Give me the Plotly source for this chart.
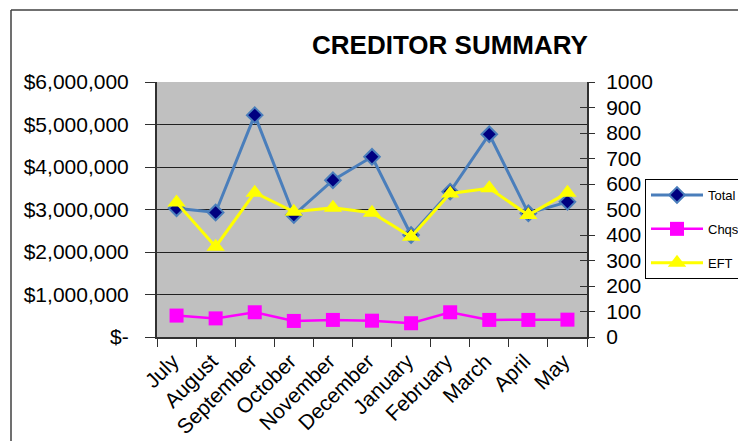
import plotly.graph_objects as go

months = ["July", "August", "September", "October", "November", "December",
          "January", "February", "March", "April", "May"]
total = [3030000, 2930000, 5220000, 2870000, 3690000, 4240000,
         2400000, 3420000, 4770000, 2910000, 3180000]
chqs = [84, 73, 97, 63, 67, 64, 54, 97, 67, 67, 68]
eft = [527, 354, 566, 491, 507, 487, 393, 563, 583, 478, 566]

left_tickvals = [0, 1000000, 2000000, 3000000, 4000000, 5000000, 6000000]
left_ticktext = ["$-", "$1,000,000", "$2,000,000", "$3,000,000", "$4,000,000",
                 "$5,000,000", "$6,000,000"]
right_tickvals = [0, 100, 200, 300, 400, 500, 600, 700, 800, 900, 1000]

FONT = "Liberation Sans, Arial, sans-serif"
OFF = 8  # page body margin
W, H = 746 - OFF, 441 - OFF
PL, PR, PT, PB = 157 - OFF, 587 - OFF, 82 - OFF, 337 - OFF  # plot area in figure px


def px_x(x):
    return (x - OFF - PL) / (PR - PL)


def px_y(y):
    return (PB - (y - OFF)) / (PB - PT)


fig = go.Figure()
fig.add_trace(go.Scatter(
    x=months, y=total, name="Total", mode="lines+markers", yaxis="y",
    line=dict(color="#4A7EBB", width=3),
    marker=dict(symbol="diamond", size=12, color="#000080",
                line=dict(color="#4A7EBB", width=2)),
    legendgroup="a"))
fig.add_trace(go.Scatter(
    x=months, y=chqs, name="Chqs", mode="lines+markers", yaxis="y2",
    line=dict(color="#FF00FF", width=2.5),
    marker=dict(symbol="square", size=14, color="#FF00FF"),
    legendgroup="b"))
fig.add_trace(go.Scatter(
    x=months, y=eft, name="EFT", mode="lines+markers", yaxis="y2",
    line=dict(color="#FFFF00", width=3),
    marker=dict(symbol="triangle-up", size=16, color="#FFFF00"),
    legendgroup="c"))

axcol = "#303030"
fig.update_layout(
    width=W, height=H,
    margin=dict(l=PL, r=W - PR, t=PT, b=H - PB, autoexpand=False),
    paper_bgcolor="white", plot_bgcolor="#C0C0C0",
    font=dict(family=FONT, color="black", size=21),
    title=dict(text="<b>CREDITOR SUMMARY</b>", font=dict(family=FONT, size=26, color="black"),
               x=(450 - OFF) / W, xanchor="center", xref="container",
               y=1 - (45 - OFF) / H, yanchor="middle", yref="container", automargin=False),
    xaxis=dict(type="category", range=[-0.5, 10.5], showgrid=False, automargin=False,
               showline=True, linecolor=axcol, linewidth=2,
               ticks="outside", ticklen=8, tickcolor=axcol,
               tickmode="array", tickvals=[i - 0.5 for i in range(12)],
               ticktext=[""] * 12, zeroline=False),
    xaxis2=dict(type="category", range=[-0.4, 10.6], overlaying="x", automargin=False,
                showgrid=False, showline=False, ticks="", tickangle=-45,
                tickfont=dict(size=21), side="bottom", ticklabelstandoff=7,
                tickmode="array", tickvals=list(range(11)), ticktext=months),
    yaxis=dict(range=[0, 6000000], tickvals=left_tickvals, ticktext=left_ticktext,
               showgrid=True, gridcolor="#202020", gridwidth=1, automargin=False,
               showline=True, linecolor=axcol, linewidth=2,
               ticks="outside", ticklen=10, tickcolor=axcol,
               ticklabelstandoff=12, zeroline=False),
    yaxis2=dict(range=[0, 1000], tickvals=right_tickvals, overlaying="y", side="right",
                showgrid=False, showline=True, linecolor=axcol, linewidth=2,
                ticks="outside", ticklen=6, tickcolor=axcol, automargin=False,
                ticklabelstandoff=7, zeroline=False),
    yaxis3=dict(range=[0, 1000], tickvals=right_tickvals, overlaying="y", side="right",
                showgrid=False, showline=False, ticks="inside", ticklen=7,
                tickcolor=axcol, showticklabels=False, automargin=False, zeroline=False),
    yaxis4=dict(range=[0, 6000000], tickvals=left_tickvals, overlaying="y", side="left",
                showgrid=False, showline=False, ticks="inside", ticklen=3,
                tickcolor=axcol, showticklabels=False, automargin=False, zeroline=False),
    legend=dict(xref="container", yref="container", x=(645 - OFF) / W,
                y=1 - (179 - OFF) / H,
                xanchor="left", yanchor="top", bgcolor="white",
                bordercolor="black", borderwidth=1, itemwidth=52,
                font=dict(family=FONT, size=13, color="black"),
                tracegroupgap=14),
    showlegend=True,
)

# helper traces to activate extra axes
fig.add_trace(go.Scatter(x=months, y=[None] * 11, xaxis="x2", yaxis="y",
                         showlegend=False, hoverinfo="skip"))
fig.add_trace(go.Scatter(x=months, y=[None] * 11, xaxis="x", yaxis="y3",
                         showlegend=False, hoverinfo="skip"))
fig.add_trace(go.Scatter(x=months, y=[None] * 11, xaxis="x", yaxis="y4",
                         showlegend=False, hoverinfo="skip"))

# chart-area border (left and top edges visible)
fig.add_shape(type="line", xref="paper", yref="paper",
              x0=px_x(11), x1=px_x(11), y0=px_y(10), y1=px_y(470),
              line=dict(color="#404040", width=1.5))
fig.add_shape(type="line", xref="paper", yref="paper",
              x0=px_x(11), x1=px_x(780), y0=px_y(10), y1=px_y(10),
              line=dict(color="#404040", width=1.5))

fig.write_html("out.html")
